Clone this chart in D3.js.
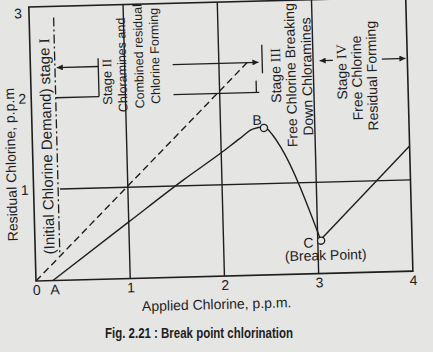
<!DOCTYPE html>
<html>
<head>
<meta charset="utf-8">
<script src="https://cdn.jsdelivr.net/npm/d3@7"></script>
<style>
body { margin: 0; background: #e5e5e3; }
svg { display: block; }
text { font-family: "Liberation Sans", Arial, sans-serif; fill: #1e1e1e; font-size: 14px; }
.rn { font-family: "Liberation Serif", "Times New Roman", serif; }
</style>
</head>
<body>
<svg id="chart" width="433" height="352"></svg>
<script>
// tick labels
var xTicks = [0, 1, 2, 3, 4];
var yTicks = [1, 2, 3];

// breakpoint curve: A rises to hump B, falls to break point C
var curveX = [0.18, 1.0, 1.6, 2.0, 2.2, 2.34, 2.46, 2.55, 2.63, 3.03];
var curveY = [0, 0.62, 1.07, 1.35, 1.50, 1.60, 1.62, 1.53, 1.40, 0.37];
// free residual after the break point
var residX = [3.03, 4.0];
var residY = [0.37, 1.37];
// applied = residual (dashed)
var dashX = [0, 2.3];
var dashY = [0, 2.33];
// initial demand boundary (dash-dot)
var demandX = 0.26;
var demandY = [0.3, 2.88];

var pointNames = ["B", "C"];
var pointX = [2.46, 3.035];
var pointY = [1.61, 0.36];

// stage arrows [from, to] at one height
var arrowY = 2.33;
var arrows = [[0.72, 0.28], [1.51, 2.42], [3.21, 3.07], [3.73, 3.98]];
// bracket pieces on y = 2
var bracketY = 2;
var brackets = [[0.26, 0.72], [1.51, 2.42]];
// short vertical bars [x, y0, y1]
var bars = [[0.72, 2.0, 2.42], [2.46, 2.21, 2.52], [2.39, 2.0, 2.13]];

// rotated stage labels: x, centre y, font size, [sans part, roman part]
var stageText = [
  [0.15, 1.47, 15, ["(Initial Chlorine Demand) stage ", "I"]],
  [0.81, 2.16, 13, ["Stage ", "II"]],
  [0.97, 2.34, 12.5, ["Chloramines and"]],
  [1.15, 2.43, 12.5, ["Combined residual"]],
  [1.32, 2.43, 12.5, ["Chlorine Forming"]],
  [2.60, 2.18, 14, ["Stage ", "III"]],
  [2.76, 2.18, 14, ["Free Chlorine Breaking"]],
  [2.93, 2.16, 14, ["Down Chloramines"]],
  [3.30, 2.20, 14, ["Stage ", "IV"]],
  [3.46, 2.13, 14, ["Free Chlorine"]],
  [3.62, 2.15, 14, ["Residual Forming"]]
];

var w = 377, h = 274;
var ink = "#1e1e1e";
var paper = "#e5e5e3";

var svg = d3.select("#chart");

// the scanned figure sits slightly askew
var g = svg.append("g")
  .attr("transform", "translate(36,281) rotate(-1.5)");

var x = d3.scaleLinear().domain([0, 4]).range([0, w]);
var y = d3.scaleLinear().domain([0, 3]).range([0, -h]);

var defs = svg.append("defs");
defs.append("marker")
  .attr("id", "head")
  .attr("viewBox", "0 0 10 10")
  .attr("refX", 10).attr("refY", 5)
  .attr("markerWidth", 8).attr("markerHeight", 6)
  .attr("markerUnits", "userSpaceOnUse")
  .attr("orient", "auto")
  .append("path")
  .attr("d", "M0,0L10,5L0,10z")
  .attr("fill", ink);

// frame
g.append("rect")
  .attr("x", x(0)).attr("y", y(3))
  .attr("width", x(4) - x(0)).attr("height", y(0) - y(3))
  .attr("fill", "none").attr("stroke", ink).attr("stroke-width", 1.6);

// grid
g.selectAll("line.vgrid")
  .data([1, 2, 3])
  .enter().append("line")
  .attr("class", "vgrid")
  .attr("x1", function(d) { return x(d); }).attr("x2", function(d) { return x(d); })
  .attr("y1", y(0)).attr("y2", y(3))
  .attr("stroke", ink).attr("stroke-width", 1.4);

g.append("line")
  .attr("x1", x(0.28)).attr("x2", x(4))
  .attr("y1", y(1)).attr("y2", y(1))
  .attr("stroke", ink).attr("stroke-width", 1.4);

// brackets and arrows
g.selectAll("line.bracket")
  .data(brackets)
  .enter().append("line")
  .attr("x1", function(d) { return x(d[0]); }).attr("x2", function(d) { return x(d[1]); })
  .attr("y1", y(bracketY)).attr("y2", y(bracketY))
  .attr("stroke", ink).attr("stroke-width", 1.3);

g.selectAll("line.bar")
  .data(bars)
  .enter().append("line")
  .attr("x1", function(d) { return x(d[0]); }).attr("x2", function(d) { return x(d[0]); })
  .attr("y1", function(d) { return y(d[1]); }).attr("y2", function(d) { return y(d[2]); })
  .attr("stroke", ink).attr("stroke-width", 1.3);

g.selectAll("line.arrow")
  .data(arrows)
  .enter().append("line")
  .attr("x1", function(d) { return x(d[0]); }).attr("x2", function(d) { return x(d[1]); })
  .attr("y1", y(arrowY)).attr("y2", y(arrowY))
  .attr("stroke", ink).attr("stroke-width", 1.3)
  .attr("marker-end", "url(#head)");

// dash-dot demand line
g.append("line")
  .attr("x1", x(demandX)).attr("x2", x(demandX))
  .attr("y1", y(demandY[1])).attr("y2", y(demandY[0]))
  .attr("stroke", ink).attr("stroke-width", 1.3)
  .attr("stroke-dasharray", "9,3,2,3");

// dashed line
var line = d3.line()
  .x(function(d) { return x(d[0]); })
  .y(function(d) { return y(d[1]); });

g.append("path")
  .attr("d", line(d3.zip(dashX, dashY)))
  .attr("fill", "none").attr("stroke", ink).attr("stroke-width", 1.4)
  .attr("stroke-dasharray", "7,4");

// breakpoint curve
g.append("path")
  .attr("d", line.curve(d3.curveMonotoneX)(d3.zip(curveX, curveY)))
  .attr("fill", "none").attr("stroke", ink).attr("stroke-width", 1.4);

g.append("path")
  .attr("d", line.curve(d3.curveLinear)(d3.zip(residX, residY)))
  .attr("fill", "none").attr("stroke", ink).attr("stroke-width", 1.4);

g.selectAll("circle.pt")
  .data(pointX)
  .enter().append("circle")
  .attr("cx", function(d) { return x(d); })
  .attr("cy", function(d, i) { return y(pointY[i]); })
  .attr("r", 3.6)
  .attr("fill", paper).attr("stroke", ink).attr("stroke-width", 1.3);

g.append("text")
  .attr("x", x(2.39)).attr("y", y(1.70)).attr("dy", "0.35em")
  .attr("text-anchor", "middle").text(pointNames[0]);
g.append("text")
  .attr("x", x(2.90)).attr("y", y(0.34)).attr("dy", "0.35em")
  .attr("text-anchor", "middle").text(pointNames[1]);
g.append("text")
  .attr("x", x(3.08)).attr("y", y(0.20)).attr("dy", "0.35em")
  .attr("text-anchor", "middle").text("(Break Point)");

// stage labels
var st = g.selectAll("text.stage")
  .data(stageText)
  .enter().append("text")
  .attr("class", "stage")
  .attr("text-anchor", "middle")
  .attr("dy", "0.35em")
  .style("font-size", function(d) { return d[2] + "px"; })
  .attr("transform", function(d) { return "translate(" + x(d[0]) + "," + y(d[1]) + ") rotate(-90)"; });

st.each(function(d) {
  var t = d3.select(this);
  t.append("tspan").text(d[3][0]);
  if (d[3][1]) t.append("tspan").attr("class", "rn").text(d[3][1]);
});

// axes
g.append("g")
  .call(d3.axisBottom(x).tickValues(xTicks).tickSize(0).tickPadding(4).tickFormat(d3.format("d")));
var yAxis = g.append("g")
  .call(d3.axisLeft(y).tickValues(yTicks).tickSize(0).tickPadding(5).tickFormat(d3.format("d")));
g.selectAll(".domain").remove();
g.selectAll(".tick text")
  .attr("font-family", null).attr("font-size", null).attr("fill", null);
// top label sits a little below the frame corner, as printed
yAxis.selectAll(".tick text")
  .filter(function(d) { return d === 3; })
  .attr("dy", "0.75em").attr("x", -7);

g.append("text")
  .attr("x", x(0.2)).attr("y", 4).attr("dy", "0.71em")
  .attr("text-anchor", "middle").text("A");

// axis titles
g.append("text")
  .attr("x", x(1.91)).attr("y", 28).attr("dy", "0.35em")
  .attr("text-anchor", "middle").text("Applied Chlorine, p.p.m.");
g.append("text")
  .attr("transform", "translate(-22," + y(1.28) + ") rotate(-90)")
  .attr("dy", "0.35em")
  .attr("text-anchor", "middle").text("Residual Chlorine, p.p.m");

// caption (condensed bold)
svg.append("text")
  .attr("x", 199).attr("y", 333).attr("dy", "0.35em")
  .attr("text-anchor", "middle")
  .attr("textLength", 188)
  .attr("lengthAdjust", "spacingAndGlyphs")
  .style("font-family", "'Liberation Sans Narrow', 'Liberation Sans', sans-serif")
  .style("font-weight", "bold")
  .style("font-size", "15px")
  .text("Fig. 2.21 : Break point chlorination");
</script>
</body>
</html>
